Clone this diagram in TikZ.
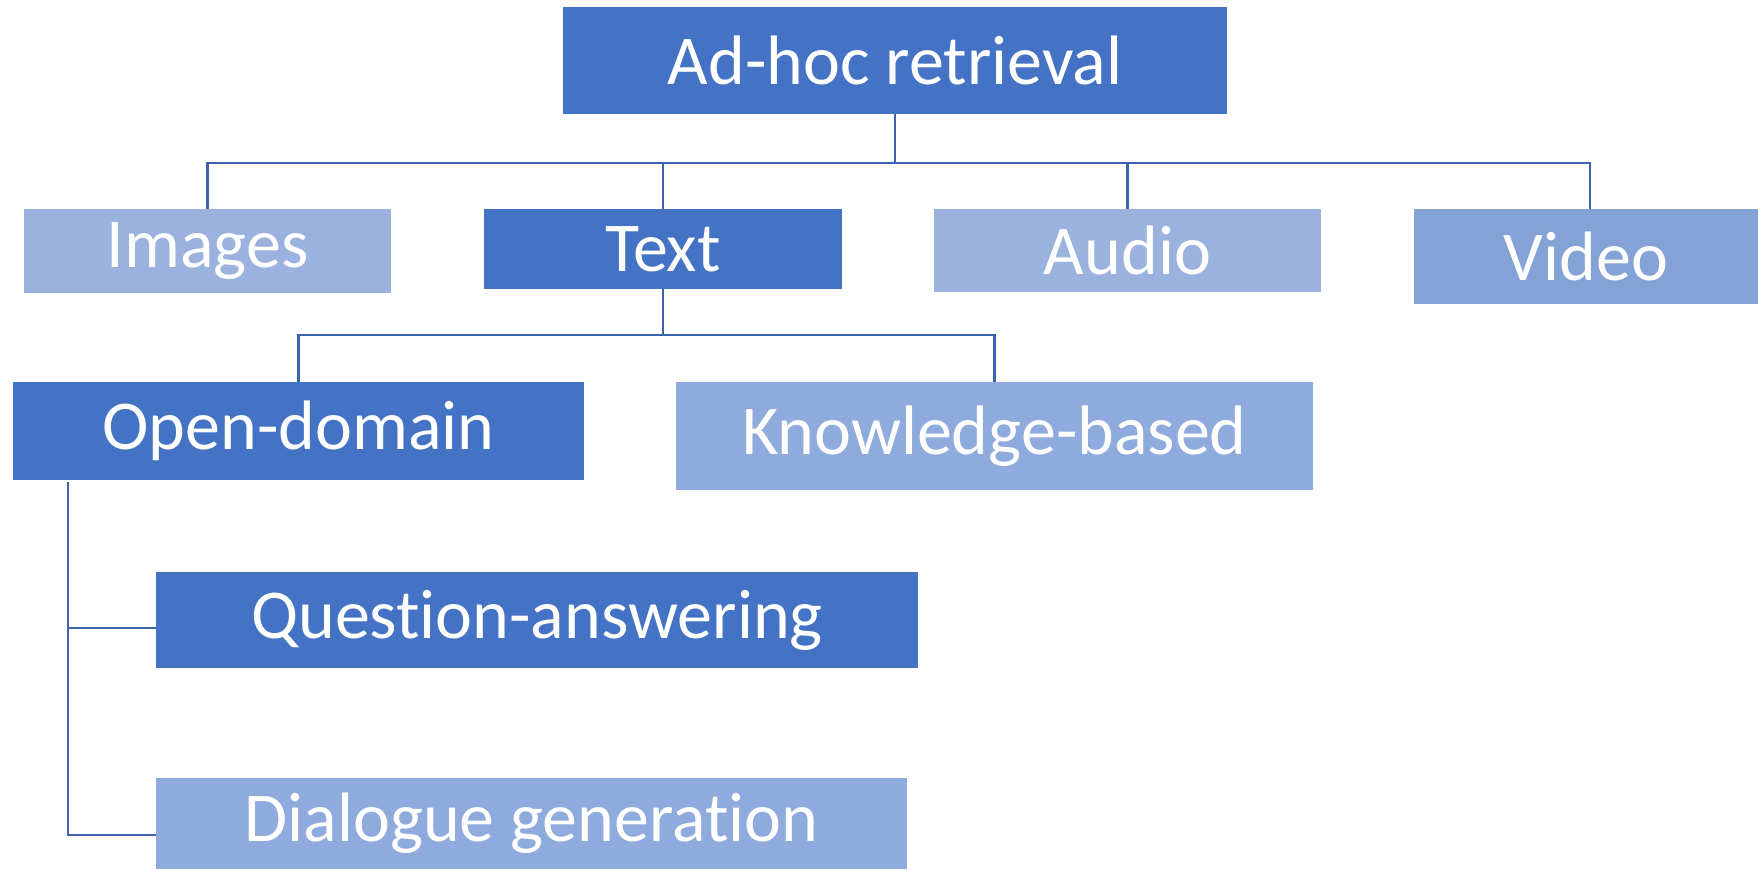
\documentclass[tikz,border=0pt]{standalone}
\usepackage{fontspec}
\setmainfont{Carlito}[Ligatures=NoCommon]
\usetikzlibrary{positioning}
\definecolor{darkbox}{HTML}{4472C4}
\definecolor{lightbox}{HTML}{9CB2DE}
\definecolor{midbox}{HTML}{8FAADC}
\definecolor{vidbox}{HTML}{84A2D6}
\definecolor{linkcol}{HTML}{3E63AD}
\tikzset{
  box/.style={inner sep=0pt, text=white, font=\fontsize{35}{42}\selectfont},
  link/.style={draw=linkcol, line width=1.2pt}
}

\begin{document}
\begin{tikzpicture}[x=0.5pt,y=-0.5pt]
    \useasboundingbox (0,0) rectangle (1758,869);
    % top level
    \node[box, fill=darkbox, minimum width=332pt, minimum height=53.5pt]
          (adhoc) at (895,60.5) {Ad-hoc retrieval};
    % media types
    \node[box, fill=lightbox, minimum width=183.5pt, minimum height=42pt]
          (images) at (207.5,251) {Images};
    \node[box, fill=darkbox, minimum width=179pt, minimum height=40pt]
          (text) at (663,249) {Text};
    \node[box, fill=lightbox, minimum width=193.5pt, minimum height=41.5pt]
          (audio) at (1127.5,250.5) {Audio};
    \node[box, fill=vidbox, minimum width=172pt, minimum height=47.5pt]
          (video) at (1586,256.5) {Video};
    % text subtypes
    \node[box, fill=darkbox, minimum width=285.5pt, minimum height=49pt]
          (opendom) at (298.5,431) {Open-domain};
    \node[box, fill=midbox, minimum width=318.5pt, minimum height=54pt]
          (knowbased) at (994.5,436) {Knowledge-based};
    \node[box, fill=darkbox, minimum width=381pt, minimum height=48pt]
          (qa) at (537,620) {Question-answering};
    \node[box, fill=midbox, minimum width=375.5pt, minimum height=45.5pt]
          (dialogue) at (531.5,823.5) {Dialogue generation};

    \coordinate (bar1) at (895,163);
    \coordinate (bar2) at (663,335);
    \coordinate (od) at (68,482);

    \draw[link] (adhoc.south) -- (bar1);
    \foreach \n in {images,text,audio}
      \draw[link] (bar1) -| (\n.north);
    \draw[link] (bar1) -| ([xshift=2pt]video.north);
    \draw[link] (text.south) -- (bar2);
    \draw[link] (bar2) -| (opendom.north);
    \draw[link] (bar2) -| (knowbased.north);
    \draw[link] (od) |- ([yshift=-4pt]qa.west);
    \draw[link] (od) |- ([yshift=-5.75pt]dialogue.west);
  \end{tikzpicture}
\end{document}
